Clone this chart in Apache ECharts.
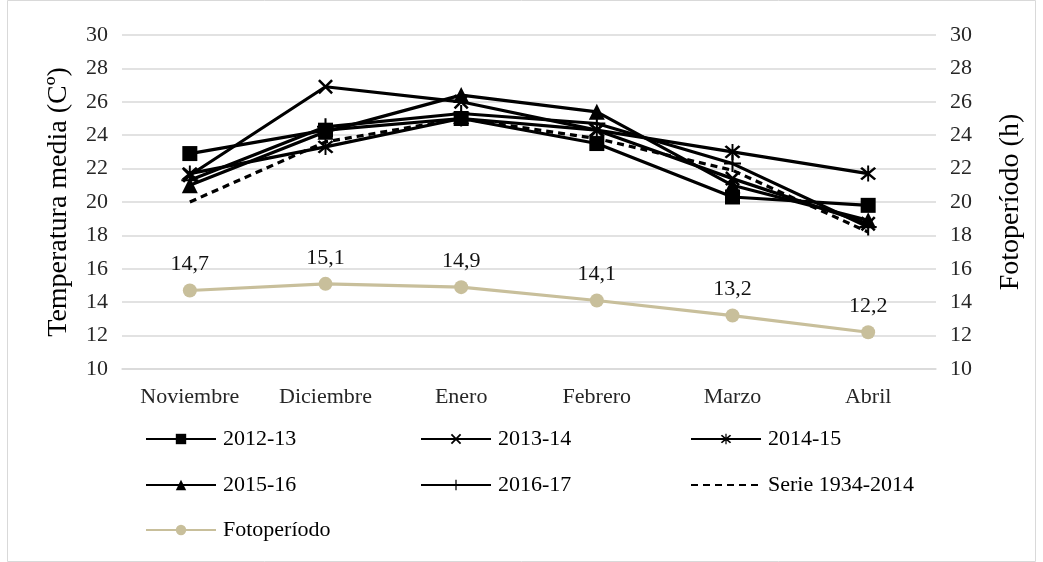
<!DOCTYPE html>
<html>
<head>
<meta charset="utf-8">
<script src="https://cdn.jsdelivr.net/npm/echarts@6/dist/echarts.min.js"></script>
<style>
  html, body { margin: 0; padding: 0; background: #fff; }
  #chart { width: 1043px; height: 562px; }
</style>
</head>
<body>
<div id="chart"></div>
<script>
// Months of the growing season
const months = ['Noviembre', 'Diciembre', 'Enero', 'Febrero', 'Marzo', 'Abril'];

// Mean temperature per season (ºC)
const t2012 = [22.9, 24.3, 25.0, 23.5, 20.3, 19.8];
const t2013 = [21.6, 26.9, 26.0, 24.3, 21.4, 18.7];
const t2014 = [21.7, 23.3, 25.0, 24.3, 23.0, 21.7];
const t2015 = [21.0, 24.2, 26.4, 25.4, 21.0, 18.9];
const t2016 = [21.3, 24.5, 25.3, 24.7, 22.3, 18.5];
const serie = [20.0, 23.6, 25.0, 23.8, 21.9, 18.2];

// Photoperiod (hours of light)
const fotoperiodo = [14.7, 15.1, 14.9, 14.1, 13.2, 12.2];

// Axis ticks
const yMin = 10, yMax = 30, yStep = 2;

const FONT = '"Liberation Serif", "Times New Roman", serif';
const INK = '#000000';
const TAN = '#c8bf9b';

// Outline marker shapes drawn as filled bars
const SYM_X = 'path://M0,1.2 L1.2,0 L10,8.8 L8.8,10 Z M8.8,0 L10,1.2 L1.2,10 L0,8.8 Z';
const SYM_STAR = 'path://M0,1.2 L1.2,0 L10,8.8 L8.8,10 Z M8.8,0 L10,1.2 L1.2,10 L0,8.8 Z M4.4,-1 H5.6 V11 H4.4 Z';
const SYM_PLUS = 'path://M4.4,0 H5.6 V10 H4.4 Z M0,4.4 H10 V5.6 H0 Z';

function tempSeries(name, data, symbol, size, dashed) {
  return {
    name: name,
    type: 'line',
    yAxisIndex: 0,
    data: data,
    symbol: symbol,
    symbolSize: size,
    showSymbol: symbol !== 'none',
    lineStyle: { color: INK, width: 3.2, type: dashed ? [7, 5] : 'solid' },
    itemStyle: { color: INK },
    emphasis: { disabled: true },
    z: 3
  };
}

const series = [
  tempSeries('2012-13', t2012, 'rect', 15),
  tempSeries('2013-14', t2013, SYM_X, 15),
  tempSeries('2014-15', t2014, SYM_STAR, 16),
  tempSeries('2015-16', t2015, 'triangle', 16),
  tempSeries('2016-17', t2016, SYM_PLUS, 17),
  tempSeries('Serie 1934-2014', serie, 'none', 0, true),
  {
    name: 'Fotoperíodo',
    type: 'line',
    yAxisIndex: 1,
    data: fotoperiodo,
    symbol: 'circle',
    symbolSize: 14,
    lineStyle: { color: TAN, width: 3.2 },
    itemStyle: { color: TAN },
    emphasis: { disabled: true },
    label: {
      show: true,
      position: 'top',
      distance: 8,
      color: '#111',
      fontFamily: FONT,
      fontSize: 22,
      formatter: p => String(p.value).replace('.', ',')
    },
    z: 2
  }
];

// One legend block per entry, laid out in three columns
const legendSlots = [
  ['2012-13', 140, 423], ['2013-14', 415, 423], ['2014-15', 685, 423],
  ['2015-16', 140, 469], ['2016-17', 415, 469], ['Serie 1934-2014', 685, 469],
  ['Fotoperíodo', 140, 514]
];
const legends = legendSlots.map(([name, left, top]) => ({
  data: [name === 'Serie 1934-2014'
    ? { name: name, itemStyle: { color: 'rgba(0,0,0,0)', borderWidth: 0 } }
    : name],
  left: left,
  top: top,
  itemWidth: 70,
  itemHeight: 13,
  itemGap: 0,
  textStyle: { fontFamily: FONT, fontSize: 22, color: '#000', padding: [0, 0, 0, 2] },
  selectedMode: false
}));

function valueAxis(position, name, gap) {
  return {
    type: 'value',
    position: position,
    min: yMin,
    max: yMax,
    interval: yStep,
    name: name,
    nameLocation: 'middle',
    nameGap: gap,
    nameTextStyle: { fontFamily: FONT, fontSize: 28, color: '#000' },
    axisLine: { show: false },
    axisTick: { show: false },
    axisLabel: { fontFamily: FONT, fontSize: 22, color: '#262626', margin: 14 },
    splitLine: { show: position === 'left', lineStyle: { color: '#d9d9d9', width: 1.5 } }
  };
}

const chart = echarts.init(document.getElementById('chart'), null, { renderer: 'canvas' });
chart.setOption({
  animation: false,
  backgroundColor: '#ffffff',
  graphic: [{
    type: 'rect',
    shape: { x: 7.5, y: 0.5, width: 1028, height: 561 },
    style: { fill: 'none', stroke: '#d9d9d9', lineWidth: 1 },
    silent: true
  }],
  grid: { left: 122, right: 107, top: 35, bottom: 193 },
  legend: legends,
  xAxis: {
    type: 'category',
    data: months,
    boundaryGap: true,
    axisLine: { show: true, lineStyle: { color: '#d9d9d9', width: 1.5 } },
    axisTick: { show: false },
    axisLabel: { fontFamily: FONT, fontSize: 22, color: '#262626', margin: 17 }
  },
  yAxis: [
    valueAxis('left', 'Temperatura media (Cº)', 49),
    valueAxis('right', 'Fotoperíodo (h)', 61)
  ],
  series: series
});
</script>
</body>
</html>
